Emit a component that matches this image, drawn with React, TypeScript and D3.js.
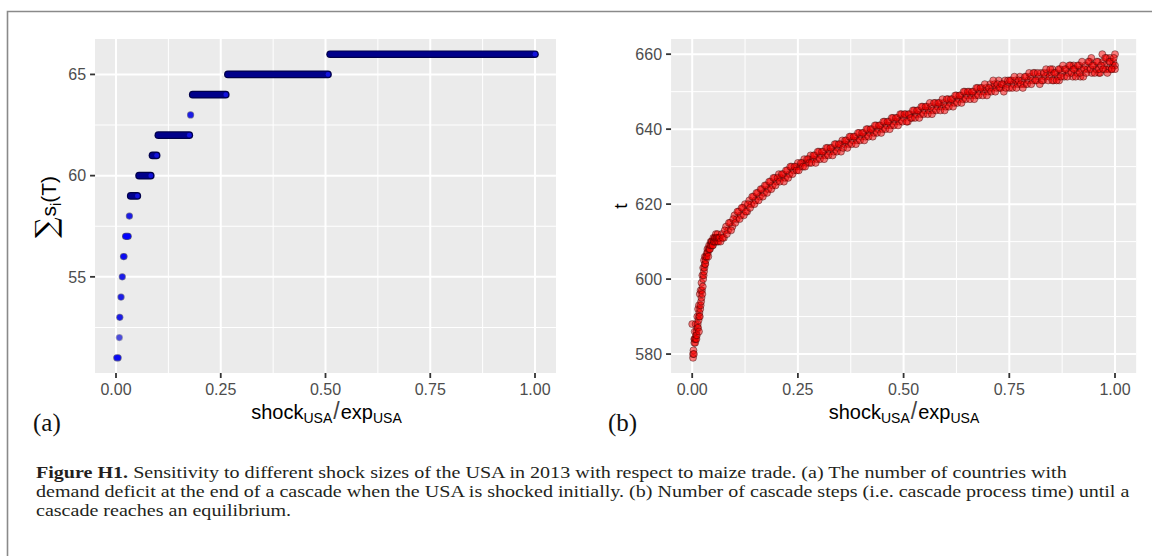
import React, { useLayoutEffect, useRef, useState } from 'react';
import * as d3 from 'd3';

// panel (a): cascade size, one run per level of sum s_i(T)
const levelsA = [51, 52, 53, 54, 55, 56, 57, 58, 59, 60, 61, 62, 63, 64, 65, 66];
const fromA = [0.002, 0.008, 0.009, 0.012, 0.015, 0.018, 0.023, 0.032, 0.035, 0.055, 0.087, 0.101, 0.178, 0.183, 0.267, 0.511];
const toA = [0.005, 0.008, 0.009, 0.012, 0.015, 0.019, 0.029, 0.032, 0.051, 0.083, 0.097, 0.175, 0.178, 0.262, 0.506, 1.0];
const countA = [3, 1, 2, 2, 2, 3, 5, 2, 12, 20, 8, 60, 2, 60, 200, 400];

// panel (b): cascade steps t vs shock (shock in thousandths)
const pointsB: [number, number][] = [
  [0, 588], [2, 579], [2, 580], [3, 581], [4, 580], [5, 583], [5, 584], [6, 584], [6, 586], [7, 583], [8, 584], [8, 588],
  [9, 585], [10, 586], [10, 584], [11, 585], [12, 587], [12, 590], [13, 588], [14, 587], [14, 592], [15, 589], [16, 590],
  [16, 586], [16, 593], [17, 591], [18, 590], [18, 596], [19, 592], [20, 593], [20, 597], [21, 594], [22, 595], [22, 599],
  [23, 597], [24, 596], [24, 601], [25, 598], [26, 600], [26, 603], [27, 601], [28, 602], [28, 605], [29, 603], [30, 604],
  [30, 606], [31, 604], [32, 605], [33, 606], [34, 606], [35, 607], [36, 608], [37, 607], [38, 606], [39, 608], [40, 609],
  [41, 608], [42, 608], [43, 609], [44, 610], [45, 609], [46, 610], [47, 610], [48, 609], [49, 609], [50, 611], [51, 610],
  [52, 610], [53, 611], [54, 611], [55, 610], [56, 612], [57, 611], [58, 611], [59, 610], [60, 612], [61, 611], [62, 610],
  [63, 611], [65, 611], [70, 612], [75, 611], [80, 614], [85, 613], [90, 615], [95, 614], [100, 617],
  [105, 616], [110, 618], [115, 617], [120, 619], [125, 620], [130, 618], [135, 621], [140, 620], [145, 622], [150, 621],
  [155, 623], [160, 622], [165, 624], [170, 623], [175, 625], [180, 624], [185, 626], [190, 625], [195, 627], [200, 626],
  [205, 628], [210, 627], [215, 628], [220, 627], [225, 629], [230, 628], [235, 630], [240, 629], [245, 630], [250, 631],
  [255, 630], [260, 631], [265, 632], [270, 631], [275, 632], [280, 633], [285, 632], [290, 633], [295, 632], [300, 634],
  [305, 633], [310, 634], [315, 633], [320, 635], [325, 634], [330, 635], [335, 634], [340, 636], [345, 635], [350, 636],
  [355, 637], [360, 636], [365, 637], [370, 636], [375, 638], [380, 637], [385, 638], [390, 637], [395, 639], [400, 638],
  [405, 639], [410, 638], [415, 640], [420, 639], [425, 640], [430, 639], [435, 641], [440, 640], [445, 641], [450, 640],
  [455, 642], [460, 641], [465, 642], [470, 641], [475, 643], [480, 642], [485, 643], [490, 642], [495, 644], [500, 643],
  [505, 644], [510, 642], [515, 644], [520, 643], [525, 645], [530, 644], [535, 645], [540, 644], [545, 646], [550, 645],
  [555, 646], [560, 645], [565, 646], [570, 645], [575, 647], [580, 646], [585, 647], [590, 646], [595, 647], [600, 646],
  [605, 648], [610, 647], [615, 648], [620, 647], [625, 649], [630, 648], [635, 649], [640, 648], [645, 650], [650, 649],
  [655, 650], [660, 649], [665, 650], [670, 649], [675, 651], [680, 650], [685, 651], [690, 650], [695, 651], [700, 650],
  [705, 652], [710, 651], [715, 652], [720, 651], [725, 653], [730, 651], [735, 652], [740, 653], [745, 652], [750, 651],
  [755, 653], [760, 652], [765, 653], [770, 652], [775, 654], [780, 653], [785, 652], [790, 654], [795, 653], [800, 654],
  [805, 653], [810, 655], [815, 653], [820, 654], [825, 655], [830, 653], [835, 654], [840, 655], [845, 654], [850, 655],
  [852, 656], [855, 653], [860, 655], [865, 654], [868, 653], [870, 656], [875, 655], [880, 654], [885, 656], [890, 655],
  [895, 657], [900, 654], [902, 657], [905, 656], [910, 655], [915, 657], [918, 654], [920, 656], [925, 654], [930, 657],
  [935, 656], [940, 658], [944, 659], [945, 655], [950, 657], [955, 656], [960, 658], [962, 655], [965, 655], [970, 660],
  [972, 658], [975, 657], [978, 656], [980, 659], [985, 656], [988, 659], [990, 658], [992, 656], [995, 657], [996, 658],
  [1000, 660], [1000, 657], [1000, 656]
];

// second batch of runs in between, on the other side of the band
const pointsB2: [number, number][] = [
  [67, 610], [72, 611], [77, 613], [82, 612], [87, 615], [92, 613], [97, 616], [102, 615], [107, 618], [112, 616],
  [117, 619], [122, 617], [127, 618], [132, 620], [137, 619], [142, 622], [147, 620], [152, 623], [157, 621], [162, 624],
  [167, 622], [172, 625], [177, 623], [182, 626], [187, 624], [192, 627], [197, 625], [202, 627], [207, 626], [212, 628],
  [217, 626], [222, 629], [227, 627], [232, 630], [237, 628], [242, 630], [247, 629], [252, 629], [257, 631], [262, 630],
  [267, 630], [272, 632], [277, 631], [282, 631], [287, 633], [292, 631], [297, 634], [302, 632], [307, 634], [312, 632],
  [317, 635], [322, 633], [327, 635], [332, 633], [337, 636], [342, 634], [347, 636], [352, 634], [357, 635], [362, 637],
  [367, 635], [372, 638], [377, 636], [382, 638], [387, 636], [392, 639], [397, 637], [402, 639], [407, 637], [412, 640],
  [417, 638], [422, 640], [427, 638], [432, 641], [437, 639], [442, 641], [447, 639], [452, 642], [457, 640], [462, 642],
  [467, 640], [472, 643], [477, 641], [482, 643], [487, 641], [492, 644], [497, 642], [502, 644], [507, 642], [512, 644],
  [517, 643], [522, 645], [527, 643], [532, 645], [537, 643], [542, 646], [547, 644], [552, 646], [557, 644], [562, 647],
  [567, 644], [572, 647], [577, 645], [582, 647], [587, 645], [592, 648], [597, 645], [602, 648], [607, 646], [612, 648],
  [617, 646], [622, 649], [627, 647], [632, 649], [637, 647], [642, 650], [647, 648], [652, 650], [657, 648], [662, 650],
  [667, 648], [672, 651], [677, 649], [682, 651], [687, 649], [692, 652], [697, 649], [702, 651], [707, 650], [712, 653],
  [717, 650], [722, 652], [727, 651], [732, 652], [737, 650], [742, 651], [747, 653], [752, 653], [757, 651], [762, 654],
  [767, 651], [772, 653], [777, 652], [782, 651], [787, 654], [792, 652], [797, 655], [802, 652], [807, 655], [812, 653],
  [817, 655], [822, 652], [827, 653], [832, 655], [837, 656], [842, 653], [847, 656], [852, 653], [857, 655], [862, 653],
  [867, 656], [872, 654], [877, 657], [882, 656], [887, 654], [892, 657], [897, 655], [902, 656], [907, 654], [912, 657],
  [917, 655], [922, 658], [927, 656], [932, 655], [937, 658], [942, 656], [947, 657], [952, 655], [957, 658], [962, 656],
  [967, 657], [972, 656], [977, 659], [982, 655], [987, 658], [992, 656], [997, 659]
];

const shockTicks = [0, 0.25, 0.5, 0.75, 1];
const shockLabels = ['0.00', '0.25', '0.50', '0.75', '1.00'];
const shockMinor = [0.125, 0.375, 0.625, 0.875];
const countTicks = [55, 60, 65];
const countMinor = [52.5, 57.5, 62.5];
const stepTicks = [580, 600, 620, 640, 660];
const stepMinor = [590, 610, 630, 650];

const captionHead = 'Figure H1.';
const captionLines = [
  ' Sensitivity to different shock sizes of the USA in 2013 with respect to maize trade. (a) The number of countries with',
  'demand deficit at the end of a cascade when the USA is shocked initially. (b) Number of cascade steps (i.e. cascade process time) until a',
  'cascade reaches an equilibrium.'
];

const sans = '"Liberation Sans", Arial, sans-serif';
const serif = '"Liberation Serif", "DejaVu Serif", serif';
const top = 39, bottom = 373;

function Panel({ x, y, xTicks, xLabels, xMinor, yTicks, yMinor, children }: any) {
  const [x0, x1] = [x(-0.05), x(1.05)];
  return (
    <g>
      <rect x={x0} y={top} width={x1 - x0} height={bottom - top} fill="#EBEBEB" />
      {xMinor.map((v: number) => <line key={'xm' + v} x1={x(v)} x2={x(v)} y1={top} y2={bottom} stroke="#fff" strokeWidth={1} />)}
      {yMinor.map((v: number) => <line key={'ym' + v} x1={x0} x2={x1} y1={y(v)} y2={y(v)} stroke="#fff" strokeWidth={1} />)}
      {xTicks.map((v: number) => <line key={'xj' + v} x1={x(v)} x2={x(v)} y1={top} y2={bottom} stroke="#fff" strokeWidth={2} />)}
      {yTicks.map((v: number) => <line key={'yj' + v} x1={x0} x2={x1} y1={y(v)} y2={y(v)} stroke="#fff" strokeWidth={2} />)}
      {children}
      {xTicks.map((v: number, i: number) => (
        <g key={'xt' + v}>
          <line x1={x(v)} x2={x(v)} y1={bottom} y2={bottom + 5} stroke="#333" strokeWidth={1.8} />
          <text x={x(v)} y={395} textAnchor="middle" fontFamily={sans} fontSize={16} fill="#4D4D4D">{xLabels[i]}</text>
        </g>
      ))}
      {yTicks.map((v: number) => (
        <g key={'yt' + v}>
          <line x1={x0 - 5} x2={x0} y1={y(v)} y2={y(v)} stroke="#333" strokeWidth={1.8} />
          <text x={x0 - 9} y={y(v)} dy="0.36em" textAnchor="end" fontFamily={sans} fontSize={16} fill="#4D4D4D">{v}</text>
        </g>
      ))}
    </g>
  );
}

function XTitle({ cx }: { cx: number }) {
  return (
    <text x={cx} y={419} textAnchor="middle" fontFamily={sans} fontSize={20} fill="#000">
      <tspan>shock</tspan>
      <tspan fontSize={14} dy={4}>USA</tspan>
      <tspan fontSize={23} dy={-4} dx={1} fontWeight={300} fill="#444">/</tspan>
      <tspan dx={1}>exp</tspan>
      <tspan fontSize={14} dy={4}>USA</tspan>
    </text>
  );
}

export default function App() {
  const xA = d3.scaleLinear().domain([0, 1]).range([116, 535]);
  const yA = d3.scaleLinear().domain([50.25, 66.75]).range([bottom, top]);
  const xB = d3.scaleLinear().domain([0, 1]).range([692.2, 1115]);
  const yB = d3.scaleLinear().domain([574.95, 664.05]).range([bottom, top]);

  // stretch the caption so its second line ends where the reference one does
  const line2 = useRef<SVGTextElement>(null);
  const [fx, setFx] = useState(1);
  useLayoutEffect(() => {
    if (line2.current) {
      const w = line2.current.getComputedTextLength();
      if (w > 0) setFx(1094 / w);
    }
  }, []);

  const allB = pointsB.concat(pointsB2);

  return (
    <svg width={1152} height={556} style={{ position: 'absolute', left: 0, top: 0, background: '#fff' }}>
      <path d="M7.5,556 V11.5 H1152" fill="none" stroke="#8a8a8a" strokeWidth={1.6} />

      <Panel x={xA} y={yA} xTicks={shockTicks} xLabels={shockLabels} xMinor={shockMinor} yTicks={countTicks} yMinor={countMinor}>
        {levelsA.map((lv, i) => {
          const n = countA[i];
          if (n > 6) {
            return (
              <g key={lv}>
                <line x1={xA(fromA[i])} x2={xA(toA[i])} y1={yA(lv)} y2={yA(lv)} stroke="#00004a" strokeWidth={7.6} strokeLinecap="round" />
                <line x1={xA(fromA[i])} x2={xA(toA[i])} y1={yA(lv)} y2={yA(lv)} stroke="#00008a" strokeWidth={5.2} strokeLinecap="round" />
                <circle cx={xA(toA[i])} cy={yA(lv)} r={2.4} fill="#1a1aff" opacity={0.7} />
              </g>
            );
          }
          const op = 1 - Math.pow(0.5, n);
          return (
            <g key={lv}>
              <line x1={xA(fromA[i])} x2={xA(toA[i])} y1={yA(lv)} y2={yA(lv)} stroke="#000050" strokeOpacity={op * 0.7} strokeWidth={7.2} strokeLinecap="round" />
              <line x1={xA(fromA[i])} x2={xA(toA[i])} y1={yA(lv)} y2={yA(lv)} stroke="#0000ff" strokeOpacity={op} strokeWidth={5.6} strokeLinecap="round" />
            </g>
          );
        })}
      </Panel>

      <Panel x={xB} y={yB} xTicks={shockTicks} xLabels={shockLabels} xMinor={shockMinor} yTicks={stepTicks} yMinor={stepMinor}>
        {allB.map(([s, t], i) => (
          <circle key={i} cx={xB(s / 1000)} cy={yB(t)} r={3.5} fill="#ff0000" fillOpacity={0.5} stroke="#300000" strokeOpacity={0.55} strokeWidth={0.8} />
        ))}
      </Panel>

      <XTitle cx={326.5} />
      <XTitle cx={904} />

      <text transform="translate(56,207) rotate(-90)" textAnchor="middle" fontFamily={sans} fontSize={21} fill="#000">
        <tspan fontFamily='"DejaVu Serif", serif' fontSize={29}>∑</tspan>
        <tspan dx={1}>s</tspan>
        <tspan fontSize={14} dy={5}>i</tspan>
        <tspan dy={-5}>(T)</tspan>
      </text>
      <text transform="translate(627,206) rotate(-90)" textAnchor="middle" fontFamily={sans} fontSize={19} fill="#000">t</text>

      <text x={33} y={431} fontFamily={serif} fontSize={25} fill="#111">(a)</text>
      <text x={608} y={431} fontFamily={serif} fontSize={25} fill="#111">(b)</text>

      <g transform={`translate(36,0) scale(${fx},1) translate(-36,0)`} fontFamily={serif} fontSize={16} fill="#231f20">
        <text x={36} y={478}>
          <tspan fontWeight="bold">{captionHead}</tspan>
          <tspan>{captionLines[0]}</tspan>
        </text>
        <text ref={line2} x={36} y={497}>{captionLines[1]}</text>
        <text x={36} y={516}>{captionLines[2]}</text>
      </g>
    </svg>
  );
}
